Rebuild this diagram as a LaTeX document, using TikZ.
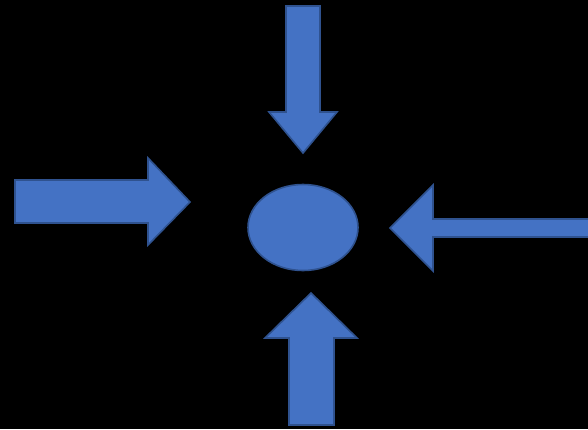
\documentclass[tikz,border=0pt]{standalone}
\usetikzlibrary{shapes.geometric}
\definecolor{fillblue}{HTML}{4472C4}
\definecolor{edgeblue}{HTML}{2F528F}
\begin{document}
\begin{tikzpicture}[x=1pt,y=-1pt,
  bluebox/.style={fill=fillblue,draw=edgeblue,line width=1.6pt,line join=miter}]
\fill[black] (0,0) rectangle (588,429);
\useasboundingbox (0,0) rectangle (588,429);
\clip (0,0) rectangle (588,429);
% top arrow (pointing down)
\draw[bluebox] (286,6) -- (320,6) -- (320,112) -- (337,112) -- (303,153) -- (269,112) -- (286,112) -- cycle;
% left arrow (pointing right)
\draw[bluebox] (15,180) -- (148,180) -- (148,158) -- (190,202) -- (148,245) -- (148,223) -- (15,223) -- cycle;
% right arrow (pointing left)
\draw[bluebox] (592,219) -- (433,219) -- (433,185) -- (390,228) -- (433,271) -- (433,237) -- (592,237) -- cycle;
% bottom arrow (pointing up)
\draw[bluebox] (289,425) -- (289,338) -- (265,338) -- (311,293) -- (357,338) -- (334,338) -- (334,425) -- cycle;
% centre ellipse
\node[bluebox,ellipse,minimum width=110pt,minimum height=86pt,inner sep=0pt] (c) at (303,227.5) {};
\end{tikzpicture}
\end{document}
